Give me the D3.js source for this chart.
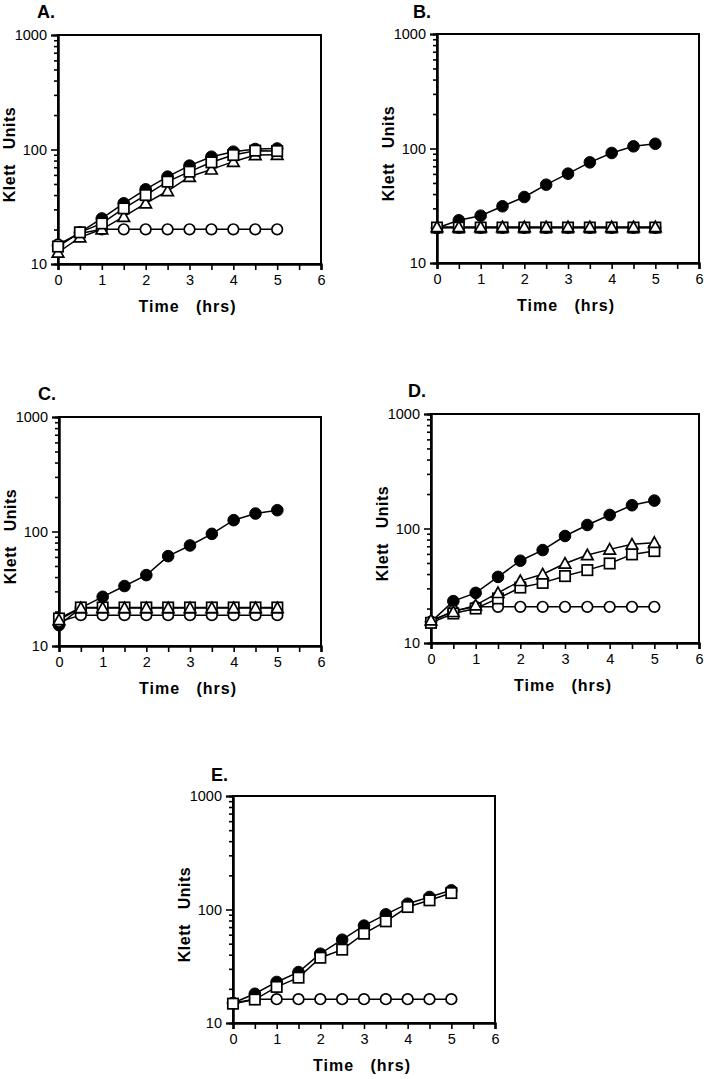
<!DOCTYPE html>
<html>
<head>
<meta charset="utf-8">
<script src="https://cdn.jsdelivr.net/npm/d3@7"></script>
<style>
  html, body { margin: 0; padding: 0; background: #fff; }
  svg text { font-family: "Liberation Sans", Arial, Helvetica, sans-serif; fill: #000; }
</style>
</head>
<body>
<svg id="chart" width="709" height="1079"></svg>
<script>
// ---- Data ----
const times = [0, 0.5, 1, 1.5, 2, 2.5, 3, 3.5, 4, 4.5, 5];
const xTicks = [0, 1, 2, 3, 4, 5, 6];
const xMinorTicks = [0.5, 1.5, 2.5, 3.5, 4.5, 5.5];
const yTicks = [10, 100, 1000];
const yMinorTicks = [20, 30, 40, 50, 60, 70, 80, 90, 200, 300, 400, 500, 600, 700, 800, 900];
const panelLabels = ["A.", "B.", "C.", "D.", "E."];
const xTitle = "Time   (hrs)";
const yTitle = "Klett   Units";

// Panel A
const aFilled   = [14.5, 18.9, 25.0, 33.9, 44.9, 57.9, 72.3, 86.5, 95.7, 101, 102];
const aSquare   = [14.2, 18.9, 22.6, 30.6, 40.0, 52.4, 64.0, 77.3, 89.5, 97.7, 97.0];
const aTriangle = [12.6, 17.1, 20.1, 25.9, 33.9, 43.4, 57.9, 67.1, 78.3, 89.5, 90.0];
const aOpen     = [14.8, 18.5, 20.1, 20.1, 20.1, 20.1, 20.1, 20.1, 20.1, 20.1, 20.1];
// Panel B
const bFilled   = [20.2, 23.6, 25.9, 31.3, 37.7, 48.3, 60.3, 75.7, 91.4, 104.5, 110];
const bSquare   = [20.4, 20.4, 20.4, 20.4, 20.4, 20.4, 20.4, 20.4, 20.4, 20.4, 20.4];
const bTriangle = [20.6, 20.6, 20.6, 20.6, 20.6, 20.6, 20.6, 20.6, 20.6, 20.6, 20.6];
const bOpen     = [20.3, 20.3, 20.3, 20.3, 20.3, 20.3, 20.3, 20.3, 20.3, 20.3, 20.3];
// Panel C
const cFilled   = [15.2, 21.5, 26.9, 33.4, 41.6, 60.9, 75.5, 95.4, 125.6, 143.5, 153.5];
const cSquare   = [17.4, 21.7, 21.7, 21.7, 21.7, 21.7, 21.7, 21.7, 21.7, 21.7, 21.7];
const cTriangle = [16.9, 21.5, 21.5, 21.5, 21.5, 21.5, 21.5, 21.5, 21.5, 21.5, 21.5];
const cOpen     = [16.3, 18.6, 18.6, 18.6, 18.6, 18.6, 18.6, 18.6, 18.6, 18.6, 18.6];
// Panel D
const dFilled   = [15.3, 23.2, 27.4, 37.8, 52.3, 64.8, 86.0, 107.3, 131.3, 159.6, 175.3];
const dSquare   = [15.0, 18.1, 20.0, 24.5, 30.5, 33.5, 38.4, 43.3, 49.5, 59.4, 63.5];
const dTriangle = [15.8, 18.7, 21.4, 27.4, 34.9, 39.9, 49.5, 58.6, 65.7, 72.7, 75.2];
const dOpen     = [15.3, 19.1, 20.7, 20.7, 20.7, 20.7, 20.7, 20.7, 20.7, 20.7, 20.7];
// Panel E
const eFilled   = [15.0, 18.1, 23.0, 28.1, 40.8, 54.2, 72.1, 90.6, 112.5, 128.9, 147.5];
const eSquare   = [14.8, 16.1, 20.8, 25.1, 37.6, 44.3, 61.2, 78.7, 105.2, 120.5, 139.7];
const eOpen     = [15.0, 16.2, 16.2, 16.2, 16.2, 16.2, 16.2, 16.2, 16.2, 16.2, 16.2];

// ---- Layout ----
const panels = [
  { label: panelLabels[0], l: 58,  t: 35,  r: 321, b: 264, lx: 37,  ly: 18,
    series: [{v: aFilled, m: "filled"}, {v: aOpen, m: "open"}, {v: aTriangle, m: "tri"}, {v: aSquare, m: "square"}] },
  { label: panelLabels[1], l: 437, t: 34,  r: 699, b: 263, lx: 413, ly: 18,
    series: [{v: bFilled, m: "filled"}, {v: bOpen, m: "open"}, {v: bSquare, m: "square"}, {v: bTriangle, m: "tri"}] },
  { label: panelLabels[2], l: 59,  t: 417, r: 321, b: 646, lx: 38,  ly: 400,
    series: [{v: cFilled, m: "filled"}, {v: cOpen, m: "open"}, {v: cSquare, m: "square"}, {v: cTriangle, m: "tri"}] },
  { label: panelLabels[3], l: 431, t: 414, r: 699, b: 643, lx: 408, ly: 397,
    series: [{v: dFilled, m: "filled"}, {v: dOpen, m: "open"}, {v: dSquare, m: "square"}, {v: dTriangle, m: "tri"}] },
  { label: panelLabels[4], l: 233, t: 796, r: 495, b: 1023, lx: 211, ly: 781,
    series: [{v: eFilled, m: "filled"}, {v: eOpen, m: "open"}, {v: eSquare, m: "square"}] }
];

const svg = d3.select("#chart");

panels.forEach(p => {
  const x = d3.scaleLinear().domain([0, 6]).range([p.l, p.r]);
  const y = d3.scaleLog().domain([10, 1000]).range([p.b, p.t]);
  const g = svg.append("g");

  // frame
  g.append("rect").attr("x", p.l).attr("y", p.t).attr("width", p.r - p.l).attr("height", p.b - p.t)
    .attr("fill", "none").attr("stroke", "#000").attr("stroke-width", 2);

  // y axis
  const yAx = g.append("g").attr("transform", `translate(${p.l},0)`)
    .call(d3.axisLeft(y).tickValues(yTicks).tickSize(7).tickPadding(4).tickFormat(d3.format("d")));
  const yMin = g.append("g").attr("transform", `translate(${p.l},0)`)
    .call(d3.axisLeft(y).tickValues(yMinorTicks).tickSize(4).tickFormat(""));
  // x axis
  const xAx = g.append("g").attr("transform", `translate(0,${p.b})`)
    .call(d3.axisBottom(x).tickValues(xTicks).tickSize(6).tickPadding(5).tickFormat(d3.format("d")));
  const xMin = g.append("g").attr("transform", `translate(0,${p.b})`)
    .call(d3.axisBottom(x).tickValues(xMinorTicks).tickSize(6).tickFormat(""));
  [yAx, yMin, xAx, xMin].forEach(a => {
    a.attr("font-size", 14.5).attr("font-family", "Liberation Sans, Arial, sans-serif");
    a.select(".domain").attr("stroke", "#000").attr("stroke-width", 2);
    a.selectAll(".tick line").attr("stroke", "#000").attr("stroke-width", 1.6);
    a.selectAll(".tick text").style("font-size", "14.5px");
  });

  // titles
  g.append("text").attr("x", p.lx).attr("y", p.ly).attr("font-size", 18).attr("font-weight", "bold")
    .text(p.label);
  g.append("text").attr("x", (p.l + p.r) / 2 - 2).attr("y", p.b + 48)
    .attr("text-anchor", "middle").attr("font-size", 16).attr("font-weight", "bold")
    .attr("letter-spacing", 1).style("white-space", "pre").text(xTitle);
  g.append("text")
    .attr("transform", `translate(${p.l - 43},${(p.t + p.b) / 2 + 5}) rotate(-90)`)
    .attr("text-anchor", "middle").attr("font-size", 16).attr("font-weight", "bold")
    .attr("letter-spacing", 0.5).style("white-space", "pre").text(yTitle);

  // lines
  const line = d3.line().x((d, i) => x(times[i])).y(d => y(d));
  p.series.forEach(s => {
    g.append("path").datum(s.v).attr("d", line).attr("fill", "none")
      .attr("stroke", "#000").attr("stroke-width", 1.5);
  });

  // markers
  p.series.forEach(s => {
    const mg = g.append("g");
    s.v.forEach((d, i) => {
      const cx = x(times[i]), cy = y(d);
      if (s.m === "filled") {
        mg.append("circle").attr("cx", cx).attr("cy", cy).attr("r", 5.8)
          .attr("fill", "#000").attr("stroke", "#000").attr("stroke-width", 1);
      } else if (s.m === "open") {
        mg.append("circle").attr("cx", cx).attr("cy", cy).attr("r", 5.3)
          .attr("fill", "#fff").attr("stroke", "#000").attr("stroke-width", 1.7);
      } else if (s.m === "square") {
        mg.append("rect").attr("x", cx - 5.2).attr("y", cy - 5.2).attr("width", 10.4).attr("height", 10.4)
          .attr("fill", "#fff").attr("stroke", "#000").attr("stroke-width", 1.7);
      } else {
        const h = 5.8;
        mg.append("path")
          .attr("d", `M${cx},${cy - h} L${cx + h},${cy + h * 0.8} L${cx - h},${cy + h * 0.8} Z`)
          .attr("fill", "#fff").attr("stroke", "#000").attr("stroke-width", 1.7);
      }
    });
  });
});
</script>
</body>
</html>
